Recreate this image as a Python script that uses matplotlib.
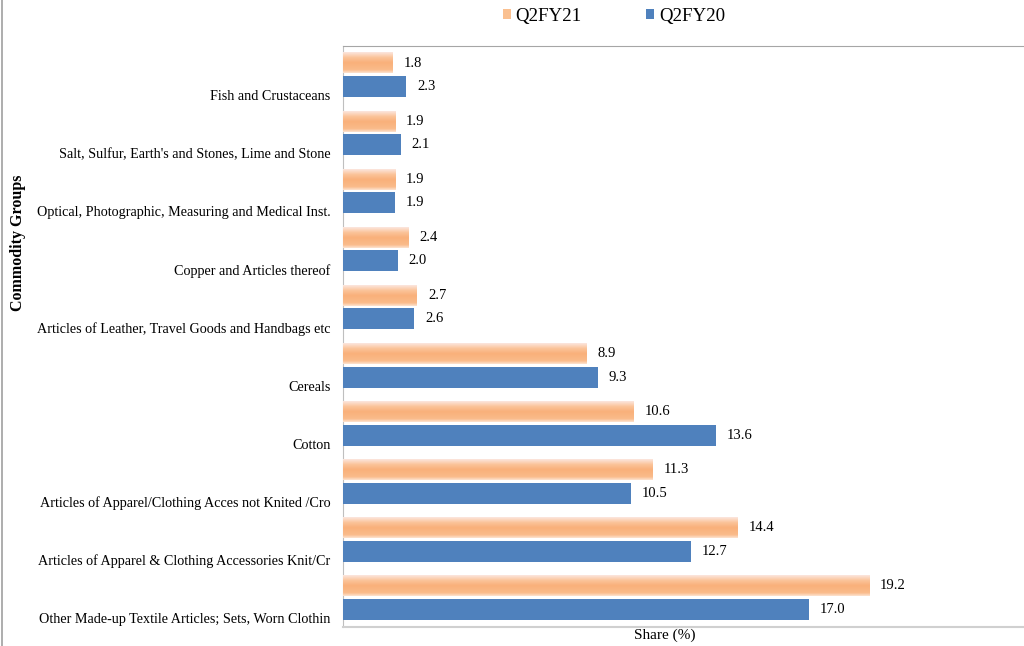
import matplotlib.pyplot as plt
import numpy as np
from matplotlib.colors import LinearSegmentedColormap
from matplotlib.patches import Patch
from matplotlib.lines import Line2D

categories = [
    'Fish and Crustaceans',
    "Salt, Sulfur, Earth's and Stones, Lime and Stone",
    'Optical, Photographic, Measuring and Medical Inst.',
    'Copper and Articles thereof',
    'Articles of Leather, Travel Goods and Handbags etc',
    'Cereals',
    'Cotton',
    'Articles of Apparel/Clothing Acces not Knited /Cro',
    'Articles of Apparel & Clothing Accessories Knit/Cr',
    'Other Made-up Textile Articles; Sets, Worn Clothin',
]
q2fy21 = [1.8, 1.9, 1.9, 2.4, 2.7, 8.9, 10.6, 11.3, 14.4, 19.2]
q2fy20 = [2.3, 2.1, 1.9, 2.0, 2.6, 9.3, 13.6, 10.5, 12.7, 17.0]

plt.rcParams['font.family'] = ['Liberation Serif', 'DejaVu Serif']

blue = '#4F81BD'
orange_cmap = LinearSegmentedColormap.from_list(
    'org', [(0.0, '#FCE6DE'), (0.25, '#FBC49A'), (0.5, '#F9B07A'),
            (0.85, '#FABB8A'), (1.0, '#FDE2CF')])

fig = plt.figure(figsize=(10.24, 6.46), dpi=100)
ax = fig.add_axes([343 / 1024, 1 - 627 / 646, 1 - 343 / 1024, 581 / 646])

y = np.arange(len(categories))
h = 0.36
bars21 = ax.barh(y - 0.207, q2fy21, height=h, color='none', zorder=3)
bars20 = ax.barh(y + 0.198, q2fy20, height=h, color=blue, zorder=3)

# gradient fill for the orange bars
grad = np.linspace(0, 1, 64).reshape(-1, 1)
for b in bars21:
    x0, yb = b.get_x(), b.get_y()
    ax.imshow(grad, cmap=orange_cmap, aspect='auto', zorder=3,
              extent=(x0, x0 + b.get_width(), yb + b.get_height(), yb),
              interpolation='bilinear')

for b, v in zip(bars21, q2fy21):
    ax.text(v + 0.4, b.get_y() + b.get_height() / 2, f'{v:.1f}',
            va='center', ha='left', fontsize=10.5)
for b, v in zip(bars20, q2fy20):
    ax.text(v + 0.4, b.get_y() + b.get_height() / 2, f'{v:.1f}',
            va='center', ha='left', fontsize=10.5)

ax.set_xlim(0, 681 / 27.4)
ax.set_ylim(len(categories) - 0.5, -0.5)
ax.set_yticks(y + 0.345)
ax.set_yticklabels(categories, fontsize=10.15)
ax.tick_params(axis='y', length=0, pad=9)
ax.set_xticks([])

ax.spines['right'].set_visible(False)
ax.spines['top'].set_color('#A6A6A6')
ax.spines['bottom'].set_color('#D0D0D0')
ax.spines['bottom'].set_linewidth(1.5)
ax.spines['left'].set_color('#BFBFBF')

fig.text(0.0175, 1 - 243 / 646, 'Commodity Groups', rotation=90, fontsize=11.5,
         fontweight='bold', ha='center', va='center')
fig.text(665 / 1024, 1 - 635 / 646, 'Share (%)', fontsize=11,
         ha='center', va='center')

handles = [Patch(facecolor='#FAC090', edgecolor='none'),
           Patch(facecolor=blue, edgecolor='none')]
fig.legend(handles, ['Q2FY21', 'Q2FY20'], loc='center', ncol=2,
           bbox_to_anchor=(614 / 1024, 1 - 16 / 646), frameon=False,
           fontsize=13.6, handlelength=0.42, handleheight=0.42,
           handletextpad=0.27, columnspacing=3.4)

fig.add_artist(Line2D([0.0015, 0.0015], [0, 1], color='#A0A0A0', lw=1.2,
                      transform=fig.transFigure))

fig.savefig('out.png', dpi=100)
